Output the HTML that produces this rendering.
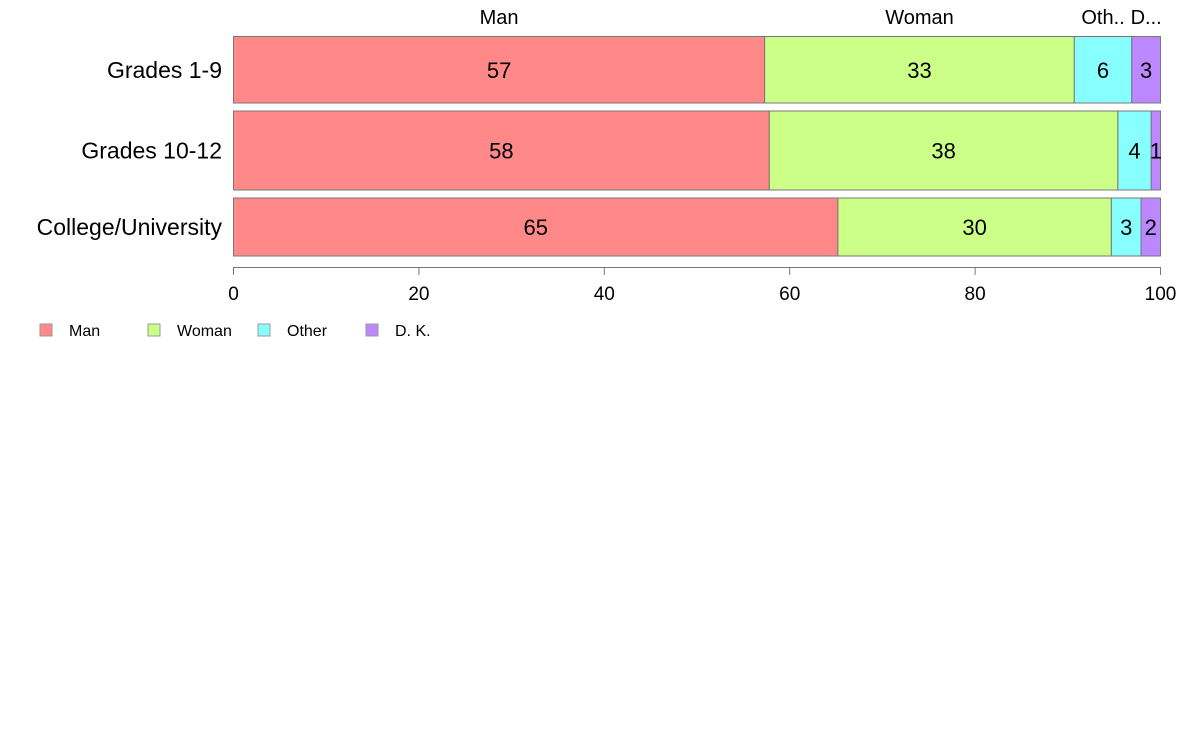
<!DOCTYPE html>
<html><head><meta charset="utf-8"><style>
body{margin:0;background:#fff;}
svg text{font-family:"Liberation Sans",Arial,sans-serif;}
</style></head><body>
<svg id="chart" width="1188" height="736" xmlns="http://www.w3.org/2000/svg"></svg>
<script>
const categories = ["Grades 1-9","Grades 10-12","College/University"];
const seriesNames = ["Man","Woman","Other","D. K."];
const topLabels = ["Man","Woman","Oth..","D..."];
const manValues = [57.3, 57.8, 65.2];
const womanValues = [33.4, 37.6, 29.5];
const otherValues = [6.2, 3.6, 3.2];
const dkValues = [3.1, 1.0, 2.1];
const tickValues = [0,20,40,60,80,100];

const colors = ["#ff8888","#ccff88","#88ffff","#bb88ff"];
const series = [manValues, womanValues, otherValues, dkValues];
const svg = document.getElementById('chart');
const NS = "http://www.w3.org/2000/svg";
const x0 = 233.5, x1 = 1160.5;
function xScale(v){ return x0 + (x1 - x0) * v / 100; }
const rows = [[36.5,103],[111,190],[198,256]];
function mk(tag, attrs, text){
  const e = document.createElementNS(NS, tag);
  for (const k in attrs) e.setAttribute(k, attrs[k]);
  if (text !== undefined) e.textContent = text;
  svg.appendChild(e);
  return e;
}
categories.forEach((c, i) => {
  const [y0, y1] = rows[i];
  let acc = 0;
  series.forEach((s, j) => {
    const v = s[i];
    const xa = xScale(acc), xb = xScale(acc + v);
    const r = mk('rect', {x: xa, y: y0, width: xb - xa, height: y1 - y0, fill: colors[j], stroke: '#777', 'stroke-width': 1});
    
    
    const t = mk('text', {x: (xa + xb) / 2, y: (y0 + y1) / 2 + 8, 'font-size': 22, 'text-anchor': 'middle', fill: '#000'}, Math.round(v));
    
    
    if (i === 0) {
      const tl = mk('text', {x: (xa + xb) / 2, y: 24, 'font-size': 20, 'text-anchor': 'middle', fill: '#000'}, topLabels[j]);
      
      
    }
    acc += v;
  });
  const cl = mk('text', {x: 222, y: (y0 + y1) / 2 + 8, 'font-size': 23, 'text-anchor': 'end', fill: '#000'}, c);
  
  
});
const ax = mk('line', {x1: x0, x2: x1, y1: 267.5, y2: 267.5, stroke: '#777', 'stroke-width': 1});


tickValues.forEach(v => {
  const tk = mk('line', {x1: xScale(v), x2: xScale(v), y1: 267, y2: 275, stroke: '#777', 'stroke-width': 1});
  
  
  const tt = mk('text', {x: xScale(v), y: 300, 'font-size': 19, 'text-anchor': 'middle', fill: '#000'}, v);
  
  
});
const legX = [40, 148, 258, 366];
seriesNames.forEach((n, j) => {
  const r = mk('rect', {x: legX[j], y: 324, width: 12, height: 12, fill: colors[j], stroke: '#999', 'stroke-width': 1});
  
  
  const t = mk('text', {x: legX[j] + 29, y: 336, 'font-size': 16, fill: '#000'}, n);
  
  
});
</script>
</body></html>
